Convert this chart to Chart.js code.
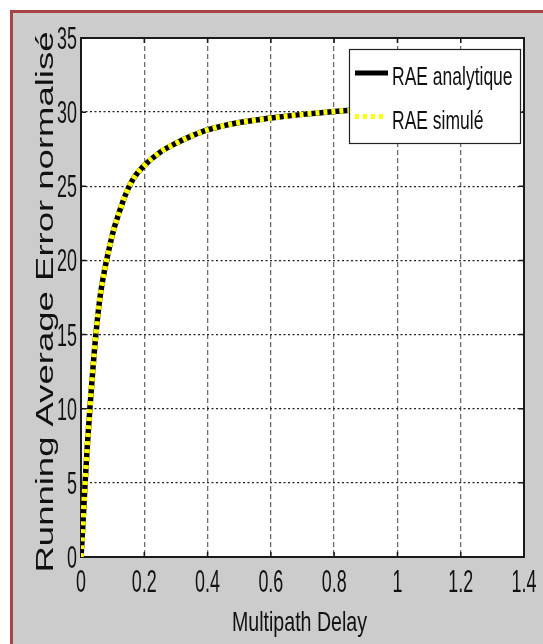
<!DOCTYPE html>
<html>
<head>
<meta charset="utf-8">
<title>Running Average Error</title>
<script src="https://cdn.jsdelivr.net/npm/chart.js@4.4.1/dist/chart.umd.min.js"></script>
<style>
  html, body { margin: 0; padding: 0; background: #fff; }
  canvas { display: block; }
</style>
</head>
<body>
<canvas id="raeChart" width="543" height="644"></canvas>
<script>
// multipath delay (x) and normalised running average error (y)
var delays      = [0, 0.005, 0.013, 0.02, 0.028, 0.037, 0.047, 0.06, 0.075, 0.09, 0.105, 0.12, 0.14, 0.165, 0.2, 0.25, 0.3, 0.35, 0.4, 0.5, 0.6, 0.7, 0.8, 0.9, 1.0];
var raeAnalytic = [0, 1.8, 5, 7.5, 10, 12.5, 15, 17.5, 19.4, 20.9, 22.2, 23.2, 24.4, 25.5, 26.4, 27.3, 27.9, 28.4, 28.8, 29.3, 29.6, 29.85, 30.05, 30.2, 30.3];
var raeSimule   = [0, 1.8, 5, 7.5, 10, 12.5, 15, 17.5, 19.4, 20.9, 22.2, 23.2, 24.4, 25.5, 26.4, 27.3, 27.9, 28.4, 28.8, 29.3, 29.6, 29.85, 30.05, 30.2, 30.3];
var seriesNames = ['RAE analytique', 'RAE simulé'];
var xTicks = [0, 0.2, 0.4, 0.6, 0.8, 1, 1.2, 1.4];
var yTicks = [0, 5, 10, 15, 20, 25, 30, 35];
var xTitle = 'Multipath Delay';
var yTitle = 'Running Average Error normalisé';

var FONT = '"Liberation Sans", Arial, sans-serif';

function pts(xs, ys) {
    return xs.map(function(x, i) { return {x: x, y: ys[i]}; });
}

// text squeezed horizontally like the exported figure
function narrowText(ctx, str, x, y, sx, align) {
    ctx.save();
    ctx.translate(x, y);
    ctx.scale(sx, 1);
    ctx.textAlign = align;
    ctx.fillText(str, 0, 0);
    ctx.restore();
}

var figure = {
    id: 'figure',
    beforeDraw: function(chart) {
        var ctx = chart.ctx, a = chart.chartArea;
        ctx.save();
        ctx.fillStyle = '#fff';
        ctx.fillRect(0, 0, chart.width, chart.height);
        ctx.fillStyle = '#a84444';
        ctx.fillRect(10, 10, chart.width, chart.height);
        ctx.fillStyle = '#cccccc';
        ctx.fillRect(13, 13, chart.width, chart.height);
        ctx.fillStyle = '#fff';
        ctx.fillRect(a.left, a.top, a.right - a.left, a.bottom - a.top);
        ctx.restore();
    },
    beforeDatasetsDraw: function(chart) {
        var ctx = chart.ctx, a = chart.chartArea;
        var xs = chart.scales.x, ys = chart.scales.y;
        var tl = 5;
        ctx.save();
        ctx.strokeStyle = '#1a1a1a';
        ctx.lineWidth = 2;
        ctx.strokeRect(a.left, a.top, a.right - a.left, a.bottom - a.top);
        ctx.lineWidth = 1.5;
        ctx.beginPath();
        xTicks.forEach(function(v) {
            var px = xs.getPixelForValue(v);
            ctx.moveTo(px, a.bottom); ctx.lineTo(px, a.bottom - tl);
            ctx.moveTo(px, a.top); ctx.lineTo(px, a.top + tl);
        });
        yTicks.forEach(function(v) {
            var py = ys.getPixelForValue(v);
            ctx.moveTo(a.left, py); ctx.lineTo(a.left + tl, py);
            ctx.moveTo(a.right, py); ctx.lineTo(a.right - tl, py);
        });
        ctx.stroke();
        ctx.restore();
    },
    afterDraw: function(chart) {
        var ctx = chart.ctx, a = chart.chartArea;
        var xs = chart.scales.x, ys = chart.scales.y;
        ctx.save();
        ctx.fillStyle = '#111';
        ctx.textBaseline = 'alphabetic';

        // tick labels
        ctx.font = '32px ' + FONT;
        xTicks.forEach(function(v) {
            narrowText(ctx, String(v), xs.getPixelForValue(v), a.bottom + 35, 0.56, 'center');
        });
        yTicks.forEach(function(v) {
            narrowText(ctx, String(v), a.left - 4, ys.getPixelForValue(v) + 11, 0.56, 'right');
        });

        // axis titles
        ctx.font = '28px ' + FONT;
        narrowText(ctx, xTitle, (a.left + a.right) / 2 - 3, 631, 0.70, 'center');

        ctx.font = '36.5px ' + FONT;
        ctx.save();
        ctx.translate(53, 302);
        ctx.rotate(-Math.PI / 2);
        ctx.scale(1, 0.68);
        ctx.textAlign = 'center';
        ctx.fillText(yTitle, 0, 0);
        ctx.restore();

        // legend box
        var lx = 349, ly = 49, lw = 171, lh = 94;
        ctx.fillStyle = '#fff';
        ctx.fillRect(lx, ly, lw, lh);
        ctx.strokeStyle = '#222';
        ctx.lineWidth = 1.2;
        ctx.strokeRect(lx + 0.5, ly + 0.5, lw, lh);

        var rows = [73, 116.5];
        chart.data.datasets.forEach(function(ds, i) {
            var y = rows[i];
            ctx.save();
            ctx.strokeStyle = ds.borderColor;
            ctx.lineWidth = 5;
            ctx.setLineDash(ds.borderDash || []);
            ctx.beginPath();
            ctx.moveTo(355, y);
            ctx.lineTo(i === 0 ? 388 : 386, y);
            ctx.stroke();
            ctx.restore();
            ctx.fillStyle = '#111';
            ctx.font = '26.5px ' + FONT;
            narrowText(ctx, ds.label, 392, y + 12, 0.66, 'left');
        });
        ctx.restore();
    }
};

new Chart(document.getElementById('raeChart'), {
    type: 'line',
    data: {
        datasets: [{
            label: seriesNames[0],
            data: pts(delays, raeAnalytic),
            borderColor: '#000000',
            borderWidth: 5.5,
            cubicInterpolationMode: 'monotone',
            pointRadius: 0,
            fill: false,
            order: 2
        }, {
            label: seriesNames[1],
            data: pts(delays, raeSimule),
            borderColor: '#ffff00',
            borderWidth: 5.5,
            borderDash: [4, 4],
            cubicInterpolationMode: 'monotone',
            pointRadius: 0,
            fill: false,
            order: 1
        }]
    },
    options: {
        responsive: false,
        animation: false,
        layout: { padding: { left: 81, top: 38, right: 19, bottom: 87 } },
        plugins: {
            legend: { display: false },
            tooltip: { enabled: false }
        },
        scales: {
            x: {
                type: 'linear',
                min: 0,
                max: 1.4,
                ticks: { display: false, stepSize: 0.2 },
                grid: { color: '#6e6e6e', lineWidth: 1.3, drawTicks: false },
                border: { display: false, dash: [5, 3] }
            },
            y: {
                type: 'linear',
                min: 0,
                max: 35,
                ticks: { display: false, stepSize: 5 },
                grid: { color: '#222', lineWidth: 1.3, drawTicks: false },
                border: { display: false, dash: [2, 2.5] }
            }
        }
    },
    plugins: [figure]
});
</script>
</body>
</html>
